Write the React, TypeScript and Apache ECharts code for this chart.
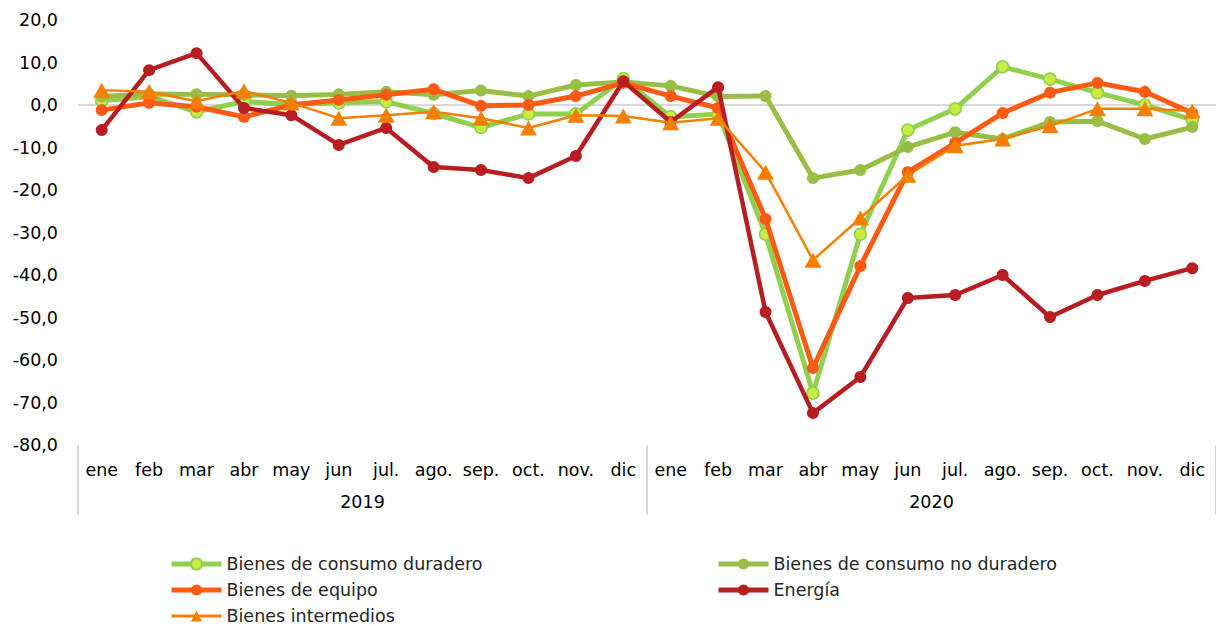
import React, { useEffect, useRef } from "react";
import * as echarts from "echarts";

const months = ["ene", "feb", "mar", "abr", "may", "jun", "jul.", "ago.", "sep.", "oct.", "nov.", "dic"];
const years = ["2019", "2020"];
const categories = [...months, ...months];

const duradero = [1.0, 2.0, -1.6, 0.8, 0.2, 0.5, 0.8, -2.0, -5.3, -2.1, -2.1, 6.2, -2.8, -2.1, -30.4, -67.8, -30.4, -5.9, -0.9, 9.0, 6.1, 2.9, 0.0, -3.5];
const noDuradero = [2.0, 2.6, 2.5, 2.4, 2.2, 2.5, 3.1, 2.4, 3.4, 2.1, 4.7, 5.4, 4.5, 2.0, 2.1, -17.2, -15.3, -9.9, -6.4, -8.0, -4.0, -3.8, -8.0, -5.2];
const equipo = [-1.2, 0.5, -0.4, -2.8, 0.0, 1.2, 2.4, 3.7, -0.2, 0.0, 2.1, 5.2, 2.1, -0.7, -26.8, -61.9, -37.9, -15.8, -8.9, -1.9, 2.9, 5.2, 3.1, -1.9];
const energia = [-5.9, 8.2, 12.2, -0.7, -2.4, -9.4, -5.4, -14.6, -15.3, -17.2, -12.0, 5.6, -4.0, 4.2, -48.7, -72.5, -64.0, -45.4, -44.7, -40.0, -49.9, -44.7, -41.4, -38.4];
const intermedios = [3.5, 3.1, 0.9, 3.3, 0.5, -3.1, -2.4, -1.6, -3.1, -5.4, -2.4, -2.6, -4.2, -3.1, -15.8, -36.5, -26.6, -16.5, -9.6, -8.0, -4.9, -0.9, -0.9, -1.4];

const names = [
  "Bienes de consumo duradero",
  "Bienes de consumo no duradero",
  "Bienes de equipo",
  "Energía",
  "Bienes intermedios",
];

const FONT = "DejaVu Sans";

export default function App() {
  const ref = useRef<HTMLDivElement>(null);
  useEffect(() => {
    if (!ref.current) return;
    const chart = echarts.init(ref.current, null, { renderer: "svg" });
    const legendText = { fontFamily: FONT, fontSize: 17.5, color: "#262626", lineHeight: 18 };
    const legendBase = {
      orient: "vertical",
      top: 555,
      padding: 0,
      itemGap: 8,
      itemWidth: 50,
      itemHeight: 14,
      textStyle: legendText,
      lineStyle: { width: 5 },
    };
    chart.setOption({
      animation: false,
      backgroundColor: "#fff",
      grid: { left: 78, right: 0, top: 20, bottom: 181, containLabel: false },
      legend: [
        {
          ...legendBase,
          data: [names[0], names[2], { name: names[4], lineStyle: { width: 3 } }],
          left: 169,
        },
        { ...legendBase, data: [names[1], names[3]], left: 716 },
      ],
      xAxis: [
        {
          type: "category",
          data: categories,
          position: "bottom",
          axisLine: { show: false },
          axisTick: { show: false },
          axisLabel: { interval: 0, margin: 16, color: "#000", fontFamily: FONT, fontSize: 17.5 },
        },
        {
          type: "category",
          data: years,
          position: "bottom",
          axisLine: { show: false },
          axisTick: { show: true, length: 70, lineStyle: { color: "#D9D9D9", width: 2 } },
          axisLabel: { interval: 0, margin: 48, color: "#000", fontFamily: FONT, fontSize: 17.5 },
        },
      ],
      yAxis: {
        type: "value",
        min: -80,
        max: 20,
        interval: 10,
        axisLine: { show: false },
        axisTick: { show: false },
        splitLine: { show: false },
        axisLabel: {
          margin: 20,
          color: "#000",
          fontFamily: FONT,
          fontSize: 17.5,
          formatter: (v: number) => v.toFixed(1).replace(".", ","),
        },
      },
      series: [
        {
          name: names[0],
          type: "line",
          data: duradero,
          symbol: "circle",
          symbolSize: 12,
          lineStyle: { color: "#8FD14F", width: 5 },
          itemStyle: { color: "#C8EC44", borderColor: "#8FD14F", borderWidth: 1.5 },
          z: 2,
          markLine: {
            silent: true,
            symbol: "none",
            label: { show: false },
            lineStyle: { color: "#D9D9D9", width: 2, type: "solid" },
            data: [{ yAxis: 0 }],
            z: 1,
          },
        },
        {
          name: names[1],
          type: "line",
          data: noDuradero,
          symbol: "circle",
          symbolSize: 12,
          lineStyle: { color: "#98BE45", width: 5 },
          itemStyle: { color: "#98BE45" },
          z: 3,
        },
        {
          name: names[2],
          type: "line",
          data: equipo,
          symbol: "circle",
          symbolSize: 12,
          lineStyle: { color: "#FF5A14", width: 5 },
          itemStyle: { color: "#FF5A14" },
          z: 4,
        },
        {
          name: names[3],
          type: "line",
          data: energia,
          symbol: "circle",
          symbolSize: 12,
          lineStyle: { color: "#B81D22", width: 4.5 },
          itemStyle: { color: "#B81D22" },
          z: 5,
        },
        {
          name: names[4],
          type: "line",
          data: intermedios,
          symbol: "triangle",
          symbolSize: [17, 15],
          lineStyle: { color: "#F57F00", width: 2.5 },
          itemStyle: { color: "#F57F00" },
          z: 6,
        },
      ],
    });
    return () => chart.dispose();
  }, []);
  return (
    <div
      ref={ref}
      style={{ position: "fixed", left: 0, top: 0, width: 1216, height: 626, background: "#fff" }}
    />
  );
}
